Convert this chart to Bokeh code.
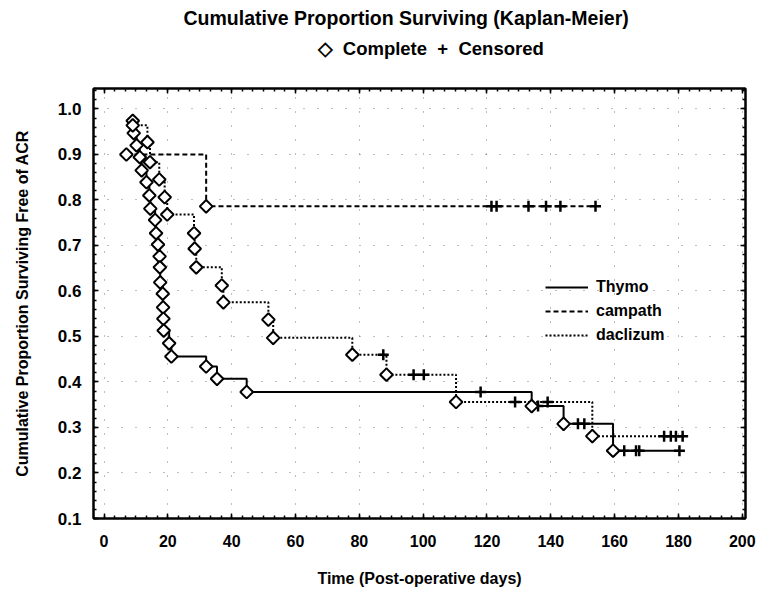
import numpy as np
from bokeh.plotting import figure
from bokeh.models import (Range1d, LinearAxis, SingleIntervalTicker, Legend, LegendItem,
                          Title, PrintfTickFormatter)
from bokeh.embed import file_html
from bokeh.resources import INLINE

# ---------------- data ----------------
title_main = "Cumulative Proportion Surviving (Kaplan-Meier)"
title_sub = "\u25c7\u00a0\u00a0Complete\u00a0\u00a0+\u00a0\u00a0Censored"
x_label = "Time (Post-operative days)"
y_label = "Cumulative Proportion Surviving Free of ACR"

group_names = ["Thymo", "campath", "daclizum"]

thymo_event_days = [9.0, 9.3, 10.2, 11.2, 11.8, 13.3, 14.2, 14.5, 16.0, 16.3, 16.9, 17.4,
                    17.5, 17.6, 18.4, 18.5, 18.6, 18.7, 20.4, 21.1, 32.0, 35.4, 44.7,
                    134.0, 144.0, 159.5]
thymo_event_surv = [0.974, 0.947, 0.920, 0.894, 0.865, 0.839, 0.810, 0.781, 0.756, 0.727,
                    0.702, 0.676, 0.652, 0.619, 0.594, 0.564, 0.539, 0.513, 0.485, 0.456,
                    0.434, 0.407, 0.378, 0.347, 0.308, 0.249]
thymo_censor_days = [118.0, 136.0, 148.5, 150.5, 163.0, 166.7, 167.7, 180.3]

campath_event_days = [7.0, 32.0]
campath_event_surv = [0.900, 0.786]
campath_censor_days = [121.4, 123.0, 133.0, 138.5, 143.0, 154.0]

dacl_event_days = [9.0, 13.6, 14.4, 17.3, 19.0, 19.8, 28.2, 28.4, 28.9, 36.9, 37.4,
                   51.5, 53.0, 77.8, 88.5, 110.3, 153.0]
dacl_event_surv = [0.964, 0.927, 0.883, 0.845, 0.806, 0.768, 0.727, 0.693, 0.652, 0.612,
                   0.575, 0.537, 0.497, 0.460, 0.416, 0.356, 0.281]
dacl_censor_days = [87.5, 97.0, 100.2, 128.8, 139.0, 175.5, 177.6, 179.2, 181.3]

x_ticks_interval = 20
y_ticks_interval = 0.1

FONT = "Liberation Sans"


def km_path(ev_t, ev_s, cen_t):
    cen_s = []
    for c in cen_t:
        lvl = ev_s[0]
        for t, s in zip(ev_t, ev_s):
            if t <= c:
                lvl = s
        cen_s.append(lvl)
    pts = sorted(list(zip(ev_t, ev_s)) + list(zip(cen_t, cen_s)), key=lambda a: a[0])
    return [a[0] for a in pts], [a[1] for a in pts], cen_s


p = figure(width=762, height=590, output_backend="svg", toolbar_location=None,
           x_range=Range1d(-3.3, 201), y_range=Range1d(0.1, 1.045),
           min_border_left=93, min_border_right=17, min_border_top=88, min_border_bottom=72,
           background_fill_color="white", border_fill_color="white")
p.title.visible = False
p.outline_line_color = "black"
p.outline_line_width = 2

xt = SingleIntervalTicker(interval=x_ticks_interval, num_minor_ticks=6)
yt = SingleIntervalTicker(interval=y_ticks_interval, num_minor_ticks=5)

for ax, tk in ((p.xaxis[0], xt), (p.yaxis[0], yt)):
    ax.ticker = tk
    ax.axis_line_color = "black"
    ax.axis_line_width = 2
    ax.major_tick_in = 5
    ax.major_tick_out = 0
    ax.minor_tick_in = 3
    ax.minor_tick_out = 0
    ax.major_tick_line_width = 1.5
    ax.minor_tick_line_width = 1.5
    ax.major_label_text_font = FONT
    ax.major_label_text_font_style = "bold"
    ax.major_label_text_color = "black"
    ax.axis_label_text_font = FONT
    ax.axis_label_text_font_style = "bold"
    ax.axis_label_text_color = "black"

p.xaxis.major_label_text_font_size = "16px"
p.yaxis.major_label_text_font_size = "17px"
p.yaxis.formatter = PrintfTickFormatter(format="%.1f")
p.xaxis.axis_label = x_label
p.yaxis.axis_label = y_label
p.xaxis.axis_label_text_font_size = "16px"
p.yaxis.axis_label_text_font_size = "16px"
p.xaxis.major_label_standoff = 16
p.yaxis.major_label_standoff = 12
p.xaxis.axis_label_standoff = 20
p.yaxis.axis_label_standoff = 24

for side, tk in (("right", yt), ("above", xt)):
    ax = LinearAxis(ticker=tk, formatter=PrintfTickFormatter(format=""),
                    axis_line_color="black", axis_line_width=2,
                    major_tick_in=5, major_tick_out=0, minor_tick_in=3, minor_tick_out=0,
                    major_tick_line_width=1.5, minor_tick_line_width=1.5,
                    major_label_standoff=0, major_label_text_font_size="1px")
    p.add_layout(ax, side)

# invisible spacer axis: only reserves room between the frame and the titles
spacer = LinearAxis(ticker=xt, formatter=PrintfTickFormatter(format=""),
                    axis_line_color=None, major_tick_line_color=None,
                    minor_tick_line_color=None, major_tick_in=0, major_tick_out=25,
                    minor_tick_in=0, minor_tick_out=0, major_label_standoff=0,
                    major_label_text_font_size="1px")
p.add_layout(spacer, "above")

p.xgrid.ticker = xt
p.ygrid.ticker = yt
for g in (p.xgrid[0], p.ygrid[0]):
    g.grid_line_color = "#444444"
    g.grid_line_alpha = 0.7
    g.grid_line_width = 1
    g.grid_line_dash = "1 13"

styles = {
    "Thymo": "solid",
    "campath": "5 3",
    "daclizum": "2 2",
}
data = {
    "Thymo": (thymo_event_days, thymo_event_surv, thymo_censor_days),
    "campath": (campath_event_days, campath_event_surv, campath_censor_days),
    "daclizum": (dacl_event_days, dacl_event_surv, dacl_censor_days),
}

line_renderers = {}
for name in group_names:
    ev_t, ev_s, cen_t = data[name]
    xs, ys, cen_s = km_path(ev_t, ev_s, cen_t)
    line_renderers[name] = p.step(xs, ys, mode="after", line_color="black", line_width=2,
                                  line_dash=styles[name])

for name in group_names:
    ev_t, ev_s, cen_t = data[name]
    xs, ys, cen_s = km_path(ev_t, ev_s, cen_t)
    p.scatter(cen_t, cen_s, marker="cross", size=11, line_color="black", line_width=2.5)
    p.scatter(ev_t, ev_s, marker="square", angle=np.pi / 4, size=9, line_color="black",
              line_width=2, fill_color="white")

legend = Legend(items=[LegendItem(label=n, renderers=[line_renderers[n]]) for n in group_names],
                location=(452, 171), orientation="vertical",
                label_text_font=FONT, label_text_font_style="bold", label_text_font_size="16px",
                label_text_color="black", glyph_width=43, glyph_height=24, label_height=24,
                label_standoff=8, spacing=0, padding=0, margin=0,
                border_line_color=None, background_fill_alpha=0)
p.add_layout(legend)

p.add_layout(Title(text=title_sub, align="left", offset=224, text_font=FONT,
                   text_font_style="bold", text_font_size="18.5px", text_color="black",
                   standoff=10), "above")
p.add_layout(Title(text=title_main, align="left", offset=90, text_font=FONT,
                   text_font_style="bold", text_font_size="19.5px", text_color="black",
                   standoff=4), "above")

open("out.html", "w").write(file_html(p, INLINE))
